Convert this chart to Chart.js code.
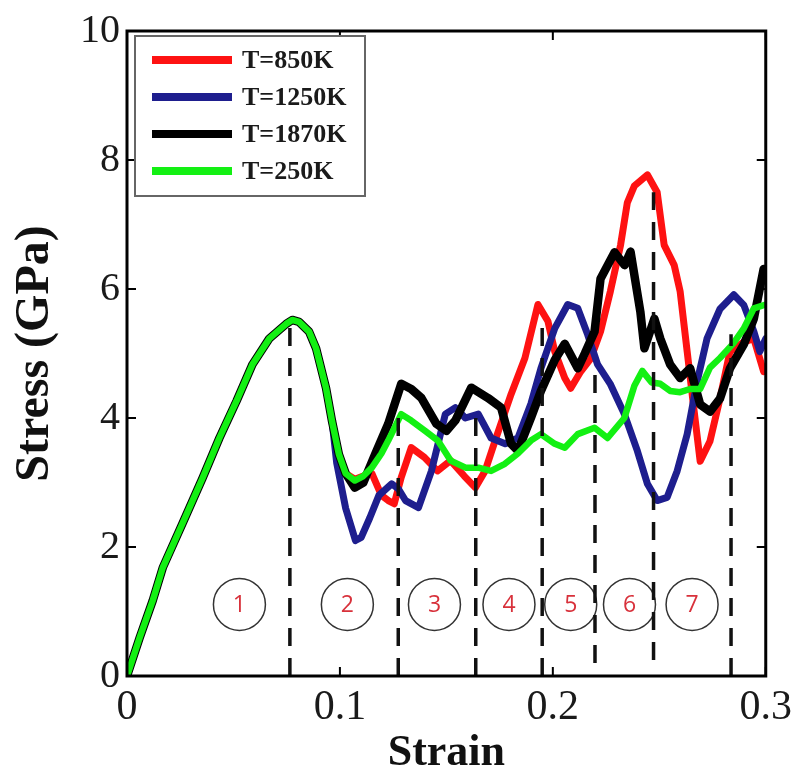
<!DOCTYPE html>
<html>
<head>
<meta charset="utf-8">
<script src="https://cdn.jsdelivr.net/npm/chart.js@4.4.1/dist/chart.umd.min.js"></script>
<style>
  html, body { margin: 0; padding: 0; background: #fff; }
</style>
</head>
<body>
<canvas id="stressChart" width="799" height="776"></canvas>
<script>
// =================== DATA ===================
const seriesLabels = ['T=850K', 'T=1250K', 'T=1870K', 'T=250K'];

// elastic part, all four temperatures lie on top of each other here
const commonStrain = [0, 0.006, 0.0121, 0.0168, 0.026, 0.0355, 0.0434, 0.0514, 0.0589, 0.0668, 0.0748, 0.0776, 0.0808, 0.0855, 0.0888, 0.0935, 0.0963];
const commonStress = [0, 0.6, 1.17, 1.68, 2.36, 3.07, 3.69, 4.26, 4.83, 5.23, 5.46, 5.52, 5.49, 5.34, 5.08, 4.46, 3.95];

const redStrain = [0.0995, 0.1027, 0.107, 0.111, 0.115, 0.1195, 0.1227, 0.1255, 0.1288, 0.1335, 0.1397, 0.1458, 0.152, 0.1584, 0.1636, 0.1682, 0.1729, 0.1804, 0.1869, 0.193, 0.1977, 0.2009, 0.2056, 0.2084, 0.2131, 0.2178, 0.2224, 0.227, 0.2318, 0.235, 0.2383, 0.2444, 0.249, 0.2523, 0.257, 0.2598, 0.2631, 0.2664, 0.2692, 0.2738, 0.2785, 0.2832, 0.2897, 0.2944, 0.299];
const redStress = [3.44, 3.14, 3.05, 3.1, 3.14, 2.8, 2.72, 2.67, 3.08, 3.54, 3.39, 3.18, 3.34, 3.1, 2.92, 3.18, 3.65, 4.37, 4.93, 5.76, 5.5, 5.03, 4.62, 4.46, 4.72, 4.92, 5.34, 5.96, 6.68, 7.34, 7.6, 7.77, 7.5, 6.68, 6.37, 5.96, 5.03, 4.1, 3.33, 3.64, 4.3, 5.03, 5.18, 5.23, 4.72];

const blueStrain = [0.0985, 0.1027, 0.1073, 0.11, 0.114, 0.1183, 0.1243, 0.1275, 0.1308, 0.1369, 0.143, 0.1495, 0.1542, 0.1589, 0.165, 0.171, 0.1776, 0.1836, 0.1897, 0.1944, 0.2009, 0.207, 0.2117, 0.2164, 0.221, 0.2271, 0.2336, 0.2397, 0.2444, 0.249, 0.2537, 0.2584, 0.2631, 0.2678, 0.2724, 0.2785, 0.285, 0.2897, 0.2944, 0.2972, 0.3];
const blueStress = [3.3, 2.6, 2.1, 2.15, 2.45, 2.8, 2.98, 2.9, 2.72, 2.61, 3.18, 4.06, 4.16, 4.0, 4.06, 3.69, 3.6, 3.69, 4.22, 4.77, 5.39, 5.76, 5.7, 5.29, 4.83, 4.52, 4.06, 3.49, 2.98, 2.72, 2.77, 3.18, 3.75, 4.57, 5.23, 5.69, 5.91, 5.75, 5.34, 5.03, 5.23];

const blackStrain = [0.0995, 0.1027, 0.107, 0.111, 0.1167, 0.1227, 0.1288, 0.1335, 0.1383, 0.1453, 0.15, 0.1542, 0.1617, 0.1696, 0.1757, 0.1804, 0.1836, 0.1897, 0.1944, 0.2009, 0.2056, 0.2117, 0.215, 0.2196, 0.2224, 0.229, 0.2337, 0.2365, 0.2411, 0.243, 0.2477, 0.2505, 0.2551, 0.2598, 0.2645, 0.2692, 0.2738, 0.2785, 0.2832, 0.2897, 0.2944, 0.299];
const blackStress = [3.44, 3.14, 2.92, 3.0, 3.45, 3.91, 4.53, 4.45, 4.31, 3.91, 3.8, 3.96, 4.47, 4.31, 4.16, 3.6, 3.49, 4.0, 4.42, 4.9, 5.15, 4.77, 5.0, 5.34, 6.16, 6.57, 6.37, 6.58, 5.65, 5.08, 5.54, 5.23, 4.83, 4.62, 4.77, 4.21, 4.1, 4.3, 4.77, 5.14, 5.54, 6.31];

const greenStrain = [0.0995, 0.1027, 0.107, 0.111, 0.115, 0.1195, 0.1227, 0.1288, 0.1335, 0.14, 0.146, 0.152, 0.159, 0.165, 0.171, 0.1775, 0.1836, 0.1897, 0.1944, 0.2009, 0.2056, 0.2117, 0.2196, 0.2257, 0.2336, 0.2383, 0.242, 0.2464, 0.2505, 0.2551, 0.2598, 0.2645, 0.2692, 0.2738, 0.2785, 0.2846, 0.2897, 0.2944, 0.3];
const greenStress = [3.44, 3.14, 3.03, 3.1, 3.23, 3.45, 3.65, 4.06, 3.96, 3.8, 3.65, 3.34, 3.23, 3.23, 3.18, 3.29, 3.45, 3.65, 3.75, 3.6, 3.54, 3.75, 3.85, 3.69, 4.0, 4.5, 4.73, 4.55, 4.53, 4.42, 4.4, 4.45, 4.45, 4.78, 4.93, 5.15, 5.39, 5.7, 5.76];

// dashed markers between deformation stages
const markerStrain = [0.0765, 0.1274, 0.1638, 0.195, 0.2198, 0.2473, 0.2837];
const markerTop = [5.5, 4.05, 4.1, 5.4, 4.85, 7.5, 5.3];
const markerBottom = [0, 0, 0, 0, 0.2, 0.25, 0];

// numbered stages
const regionLabels = ['1', '2', '3', '4', '5', '6', '7'];
const regionStrain = [0.0528, 0.1035, 0.1444, 0.1794, 0.2084, 0.236, 0.2654];
const regionStress = [1.11, 1.11, 1.11, 1.11, 1.11, 1.11, 1.11];

const xTicks = [0, 0.1, 0.2, 0.3];
const yTicks = [0, 2, 4, 6, 8, 10];

// =================== BUILD ===================
const colors = ['#fe1212', '#1e1e8e', '#000000', '#13f013'];
const serif = '"Liberation Serif", "Times New Roman", serif';

function pts(xs, ys) {
  return xs.map((x, i) => ({ x: x, y: ys[i] }));
}

const curveData = [
  pts(commonStrain.concat(redStrain), commonStress.concat(redStress)),
  pts(commonStrain.concat(blueStrain), commonStress.concat(blueStress)),
  pts(commonStrain.concat(blackStrain), commonStress.concat(blackStress)),
  pts(commonStrain.concat(greenStrain), commonStress.concat(greenStress))
];
const curveOrder = [5, 4, 3, 2];
const curveWidth = [7, 7, 8.5, 6.5];

const datasets = curveData.map((d, i) => ({
  label: seriesLabels[i],
  data: d,
  showLine: true,
  borderColor: colors[i],
  backgroundColor: colors[i],
  borderWidth: curveWidth[i],
  borderJoinStyle: 'round',
  borderCapStyle: 'round',
  pointRadius: 0,
  tension: 0,
  order: curveOrder[i]
}));

markerStrain.forEach((s, i) => {
  datasets.push({
    label: 'marker' + (i + 1),
    data: [{ x: s, y: markerBottom[i] }, { x: s, y: markerTop[i] }],
    showLine: true,
    borderColor: '#111',
    borderWidth: 3.5,
    borderDash: [18, 12],
    pointRadius: 0,
    order: 0
  });
});

const regionIndex = datasets.length;
datasets.push({
  label: 'stages',
  data: pts(regionStrain, regionStress),
  showLine: false,
  pointRadius: 26,
  pointBackgroundColor: '#fff',
  pointBorderColor: '#333',
  pointBorderWidth: 1.5,
  order: 1
});

// =================== FRAME, LEGEND, STAGE NUMBERS ===================
const framePlugin = {
  id: 'frame',
  afterDatasetsDraw(chart) {
    const { ctx, chartArea: a, scales } = chart;
    ctx.save();

    // stage numbers inside the circles
    const meta = chart.getDatasetMeta(regionIndex);
    ctx.fillStyle = '#d8313b';
    ctx.font = '23px "Open Sans", sans-serif';
    ctx.textAlign = 'center';
    ctx.textBaseline = 'middle';
    meta.data.forEach((p, i) => ctx.fillText(regionLabels[i], p.x, p.y + 1));

    // box around the plot
    ctx.strokeStyle = '#000';
    ctx.lineWidth = 3;
    ctx.strokeRect(a.left, a.top, a.right - a.left, a.bottom - a.top);

    // inward ticks on all four sides
    ctx.lineWidth = 2;
    ctx.beginPath();
    xTicks.forEach(v => {
      const px = scales.x.getPixelForValue(v);
      ctx.moveTo(px, a.bottom); ctx.lineTo(px, a.bottom - 9);
      ctx.moveTo(px, a.top); ctx.lineTo(px, a.top + 9);
    });
    yTicks.forEach(v => {
      const py = scales.y.getPixelForValue(v);
      ctx.moveTo(a.left, py); ctx.lineTo(a.left + 9, py);
      ctx.moveTo(a.right, py); ctx.lineTo(a.right - 9, py);
    });
    ctx.stroke();

    // legend
    const lx = a.left + 8, ly = a.top + 5;
    ctx.fillStyle = '#fff';
    ctx.fillRect(lx, ly, 230, 160);
    ctx.strokeStyle = '#666';
    ctx.lineWidth = 2;
    ctx.strokeRect(lx, ly, 230, 160);
    ctx.font = 'bold 26px ' + serif;
    ctx.textAlign = 'left';
    ctx.textBaseline = 'middle';
    seriesLabels.forEach((label, i) => {
      const cy = ly + 24 + i * 37;
      ctx.strokeStyle = colors[i];
      ctx.lineWidth = 8;
      ctx.beginPath();
      ctx.moveTo(lx + 17, cy);
      ctx.lineTo(lx + 97, cy);
      ctx.stroke();
      ctx.fillStyle = '#1a1a1a';
      ctx.fillText(label, lx + 107, cy + 1);
    });

    ctx.restore();
  }
};

// =================== CHART ===================
const chart = new Chart(document.getElementById('stressChart'), {
  type: 'scatter',
  data: { datasets: datasets },
  options: {
    responsive: false,
    animation: false,
    layout: { padding: { top: 28, right: 29, left: 0, bottom: 0 } },
    plugins: {
      legend: { display: false },
      tooltip: { enabled: false }
    },
    scales: {
      x: {
        type: 'linear',
        min: 0,
        max: 0.3,
        afterFit: s => { s.height = 100; },
        afterBuildTicks: s => { s.ticks = xTicks.map(v => ({ value: v })); },
        grid: { display: false, drawTicks: false },
        border: { display: false },
        ticks: {
          padding: 7,
          color: '#1a1a1a',
          font: { family: serif, size: 42 },
          callback: v => v === 0 ? '0' : v.toFixed(1)
        },
        title: {
          display: true,
          text: 'Strain',
          color: '#111',
          padding: 0,
          font: { family: serif, size: 44, weight: 'bold', lineHeight: 1.0 }
        }
      },
      y: {
        min: 0,
        max: 10,
        afterFit: s => { s.width = 127; },
        afterBuildTicks: s => { s.ticks = yTicks.map(v => ({ value: v })); },
        grid: { display: false, drawTicks: false },
        border: { display: false },
        ticks: {
          padding: 7,
          color: '#1a1a1a',
          font: { family: serif, size: 40 }
        },
        title: {
          display: true,
          text: 'Stress (GPa)',
          color: '#111',
          padding: { top: 7, bottom: 0 },
          font: { family: serif, size: 48, weight: 'bold', lineHeight: 1.2 }
        }
      }
    }
  },
  plugins: [framePlugin]
});
</script>
</body>
</html>
